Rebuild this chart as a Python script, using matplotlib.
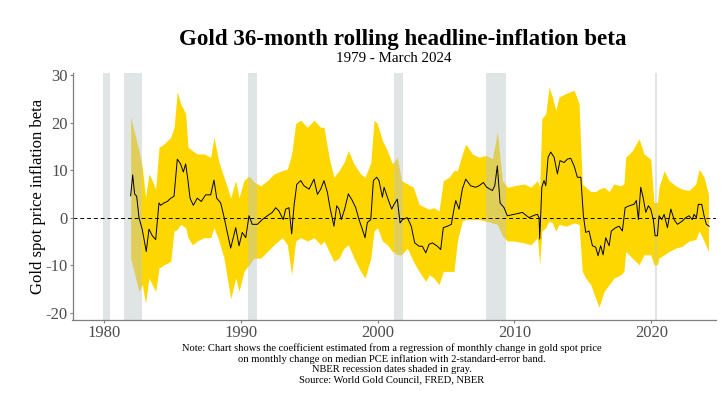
import numpy as np
import matplotlib
matplotlib.use('Agg')
import matplotlib.pyplot as plt

plt.rcParams['font.family'] = ['Liberation Serif', 'DejaVu Serif']
plt.rcParams['axes.unicode_minus'] = False

# rolling beta (decimal year, value)
line_year = [1981.95, 1982.1, 1982.24, 1982.39, 1982.56, 1982.8, 1983.09, 1983.29, 1983.53, 1983.78,
             1984.02, 1984.14, 1984.39, 1984.63, 1984.88, 1985.12, 1985.36, 1985.6, 1985.8, 1985.97,
             1986.14, 1986.29, 1986.53, 1986.82, 1987.11, 1987.43, 1987.8, 1988.04, 1988.24, 1988.53,
             1988.77, 1989.26, 1989.63, 1989.87, 1990.11, 1990.36, 1990.6, 1990.84, 1991.21, 1991.57,
             1991.94, 1992.3, 1992.55, 1992.79, 1993.1, 1993.28, 1993.52, 1993.72, 1993.89, 1994.09,
             1994.38, 1994.62, 1994.99, 1995.35, 1995.6, 1995.84, 1996.08, 1996.33, 1996.52, 1996.81,
             1997.01, 1997.18, 1997.35, 1997.59, 1997.86, 1998.15, 1998.4, 1998.64, 1998.81, 1999.08,
             1999.25, 1999.5, 1999.69, 1999.93, 2000.1, 2000.35, 2000.47, 2000.76, 2001.03, 2001.2,
             2001.44, 2001.64, 2001.81, 2002.17, 2002.46, 2002.71, 2003.03, 2003.27, 2003.52, 2003.76,
             2004.0, 2004.37, 2004.61, 2004.8, 2005.1, 2005.39, 2005.58, 2005.71, 2005.95, 2006.19,
             2006.44, 2006.8, 2007.17, 2007.41, 2007.73, 2007.97, 2008.39, 2008.56, 2008.75, 2008.95,
             2009.24, 2009.48, 2009.97, 2010.58, 2011.07, 2011.43, 2011.68, 2011.8, 2011.85, 2012.0,
             2012.16, 2012.29, 2012.46, 2012.65, 2012.9, 2013.14, 2013.33, 2013.63, 2013.87, 2014.11,
             2014.36, 2014.6, 2014.85, 2015.04, 2015.21, 2015.45, 2015.7, 2015.94, 2016.11, 2016.3,
             2016.48, 2016.67, 2016.92, 2017.08, 2017.4, 2017.65, 2017.89, 2018.09, 2018.38, 2018.74,
             2018.91, 2019.06, 2019.23, 2019.4, 2019.6, 2019.79, 2019.96, 2020.15, 2020.28, 2020.45,
             2020.57, 2020.77, 2020.94, 2021.18, 2021.43, 2021.67, 2021.91, 2022.27, 2022.52, 2022.76,
             2023.0, 2023.13, 2023.3, 2023.44, 2023.69, 2023.86, 2024.03, 2024.23]
beta = [4.6, 9.0, 5.0, 4.5, 0.0, -2.5, -7.1, -2.4, -3.8, -4.6,
        3.1, 2.6, 3.1, 3.4, 4.1, 4.5, 12.3, 11.3, 9.6, 11.3,
        7.8, 4.1, 2.6, 4.1, 3.4, 4.8, 4.8, 7.9, 4.1, 3.1,
        0.2, -6.4, -2.1, -5.9, -3.1, -4.2, 0.4, -1.4, -1.4, -0.4,
        0.4, 1.1, 2.1, 1.4, -0.4, 1.8, 2.1, -3.4, 2.5, 7.0,
        7.8, 6.7, 6.0, 8.1, 4.9, 6.0, 7.8, 5.3, 2.1, -1.8,
        2.5, 1.8, -0.4, 1.8, 5.0, 3.6, 2.1, -0.4, -1.8, -4.2,
        -1.0, -0.4, 7.8, 8.5, 7.8, 4.3, 6.4, 3.9, 1.8, 2.8,
        3.9, -1.1, -0.4, 0.0, -1.8, -5.3, -6.0, -6.0, -7.4, -5.6,
        -5.3, -6.0, -6.7, -2.1, -1.8, -1.4, 1.8, 3.6, 1.8, 6.0,
        8.1, 6.7, 6.4, 6.7, 7.4, 6.4, 5.7, 6.7, 10.9, 3.1,
        2.1, 0.4, 0.7, 1.1, 0.0, 0.5, 0.7, 0.0, -4.5, 6.4,
        7.8, 6.7, 12.7, 13.8, 12.7, 9.2, 12.0, 11.6, 12.3, 12.5,
        10.9, 8.5, 8.5, 0.4, -3.1, -2.8, -5.9, -6.2, -8.0, -5.9,
        -7.8, -4.2, -5.9, -2.8, -2.1, -1.8, -2.8, 2.1, 2.5, 2.8,
        3.6, -0.4, 6.4, 4.3, 1.1, 2.5, 1.8, -0.4, -3.8, -3.8,
        0.4, -0.4, 0.7, -2.1, 1.8, -0.4, -1.4, -0.7, 0.0, 0.4,
        -0.4, 0.7, 0.0, 2.8, 2.8, 0.4, -1.4, -1.8]

# 2-standard-error band
band_year = [1981.95, 1982.19, 1982.56, 1982.8, 1983.04, 1983.29, 1983.53, 1983.78, 1984.02, 1984.39,
             1984.88, 1985.12, 1985.36, 1985.6, 1985.97, 1986.14, 1986.46, 1986.82, 1987.31, 1987.8,
             1988.04, 1988.41, 1988.77, 1989.26, 1989.63, 1989.87, 1990.23, 1990.6, 1990.96, 1991.45,
             1991.94, 1992.43, 1993.03, 1993.4, 1993.72, 1994.01, 1994.38, 1994.86, 1995.35, 1995.84,
             1996.08, 1996.45, 1996.81, 1997.18, 1997.54, 1997.86, 1998.27, 1998.76, 1999.08, 1999.5,
             1999.74, 1999.98, 2000.35, 2000.71, 2001.08, 2001.44, 2001.74, 2002.17, 2002.61, 2003.03,
             2003.52, 2003.76, 2004.12, 2004.49, 2004.8, 2005.22, 2005.58, 2005.83, 2006.19, 2006.44,
             2006.92, 2007.41, 2007.9, 2008.39, 2008.75, 2009.12, 2009.48, 2009.97, 2010.7, 2011.19,
             2011.68, 2011.85, 2012.0, 2012.29, 2012.53, 2012.77, 2013.02, 2013.26, 2013.75, 2014.36,
             2014.72, 2014.96, 2015.21, 2015.58, 2015.94, 2016.18, 2016.55, 2016.92, 2017.28, 2017.77,
             2018.0, 2018.13, 2018.62, 2019.11, 2019.47, 2019.96, 2020.2, 2020.45, 2020.57, 2020.94,
             2021.3, 2021.79, 2022.27, 2022.76, 2023.25, 2023.5, 2023.86, 2024.18]
band_hi = [21.2, 18.3, 14.1, 10.6, 4.2, 9.2, 7.8, 6.0, 14.8, 15.5,
           16.9, 19.0, 26.5, 24.0, 21.9, 14.8, 14.1, 13.4, 13.4, 12.7,
           16.9, 11.6, 8.5, 4.2, 7.8, 4.2, 7.8, 8.8, 7.5, 6.7,
           7.8, 9.2, 9.9, 10.2, 13.4, 19.8, 20.5, 19.0, 20.5, 19.0,
           19.0, 12.7, 8.5, 9.9, 11.6, 14.1, 11.3, 9.2, 8.5, 11.6,
           20.5, 19.8, 16.2, 14.1, 11.3, 12.7, 7.8, 7.1, 6.4, 2.8,
           2.1, 1.8, 2.1, 1.4, 7.8, 8.5, 9.9, 9.9, 13.4, 15.5,
           13.4, 12.7, 13.1, 12.4, 18.0, 7.8, 6.4, 6.7, 7.1, 6.4,
           7.8, 6.4, 20.8, 21.9, 27.5, 25.4, 22.6, 25.4, 26.1, 26.8,
           24.0, 7.1, 6.4, 5.5, 5.5, 6.0, 6.4, 5.5, 7.1, 6.7,
           7.1, 12.7, 14.1, 16.6, 13.4, 12.3, 3.2, 3.2, 6.4, 9.9,
           7.8, 6.7, 6.0, 5.7, 7.1, 10.2, 8.5, 4.9]
band_lo = [-8.5, -11.3, -15.5, -14.1, -18.0, -12.7, -14.1, -15.5, -10.6, -9.9,
           -9.2, -2.8, -2.5, -1.4, -2.1, -4.2, -5.7, -4.9, -4.2, -4.2,
           -2.1, -4.9, -8.5, -17.0, -12.7, -15.5, -11.3, -9.9, -8.5, -8.5,
           -7.1, -5.7, -4.2, -5.7, -12.0, -4.9, -4.2, -4.9, -4.2, -5.7,
           -4.9, -7.1, -9.2, -8.5, -6.4, -5.7, -8.5, -11.3, -12.7, -8.5,
           -2.8, -2.1, -4.9, -5.7, -7.1, -7.8, -7.8, -6.4, -9.2, -11.3,
           -13.4, -12.0, -12.7, -14.1, -11.3, -11.3, -11.3, -4.9, -0.7, -0.4,
           -0.4, -0.4, -0.7, -1.1, -1.4, -3.8, -4.9, -4.9, -5.3, -5.7,
           -4.2, -9.9, -2.8, -2.1, -0.7, -1.1, -2.8, -1.4, -1.8, -1.1,
           -1.4, -11.3, -12.7, -14.1, -17.0, -18.8, -15.5, -14.1, -12.7, -12.0,
           -11.3, -7.1, -8.5, -9.9, -7.8, -7.8, -9.9, -9.9, -8.5, -7.8,
           -7.1, -6.4, -6.0, -4.9, -4.6, -2.8, -4.9, -7.1]

# NBER recessions
rec_start = [1979.95, 1981.5, 1990.5, 2001.17, 2007.92, 2020.25]
rec_end = [1980.45, 1982.75, 1991.15, 2001.83, 2009.4, 2020.45]

x_ticks = [1980, 1990, 2000, 2010, 2020]
y_ticks = [-20, -10, 0, 10, 20, 30]

fig = plt.figure(figsize=(7.25, 3.95), dpi=100)
ax = fig.add_axes([0.1, 0.19, 0.887, 0.625])

ax.fill_between(band_year, band_lo, band_hi, color='#FFD700', linewidth=0)
ax.plot(line_year, beta, color='black', lw=0.7)
for s, e in zip(rec_start, rec_end):
    ax.axvspan(s, e, color='#b9c4c4', alpha=0.45, lw=0)
ax.axhline(0, color='black', lw=0.7, ls=(0, (4, 3)))

ax.set_xlim(1977.7, 2024.7)
ax.set_ylim(-21.5, 30.4)
ax.set_xticks(x_ticks)
ax.set_yticks(y_ticks)
for sp in ['top', 'right']:
    ax.spines[sp].set_visible(False)
for sp in ['left', 'bottom']:
    ax.spines[sp].set_color('#7f7f7f')
    ax.spines[sp].set_linewidth(0.9)
ax.tick_params(colors='#7f7f7f', labelcolor='#4d4d4d', labelsize=12, length=2, width=0.8, pad=1.5)
ax.set_ylabel('Gold spot price inflation beta', fontsize=12)
ax.yaxis.set_label_coords(-0.041, 0.5)

fig.text(0.555, 0.899, 'Gold 36-month rolling headline-inflation beta',
         ha='center', va='center', fontsize=16.6, fontweight='bold')
fig.text(0.543, 0.853, '1979 - March 2024', ha='center', va='center', fontsize=10.8)
fig.text(0.54, 0.131,
         'Note: Chart shows the coefficient estimated from a regression of monthly change in gold spot price\n'
         'on monthly change on median PCE inflation with 2-standard-error band.\n'
         'NBER recession dates shaded in gray.\n'
         'Source: World Gold Council, FRED, NBER',
         ha='center', va='top', fontsize=7.6, linespacing=1.15, multialignment='center')

fig.savefig('out.png', dpi=100)
